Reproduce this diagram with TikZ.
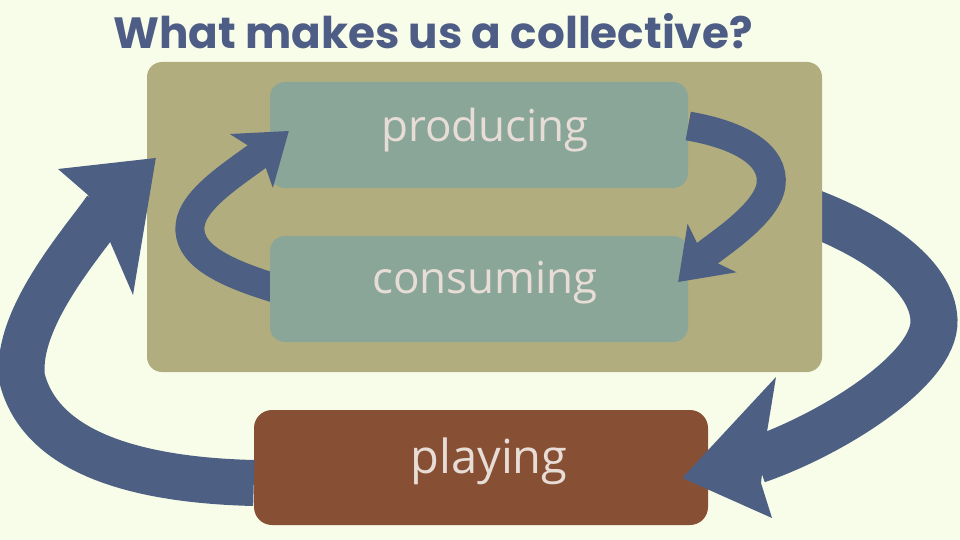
\documentclass[tikz,border=0pt]{standalone}
\usepackage{fontspec}
\setmainfont{Open Sans}
\newfontfamily\titlefont{Poppins}
\usetikzlibrary{arrows.meta}
\definecolor{bg}{HTML}{F8FDEA}
\definecolor{olivebox}{HTML}{B2AD7E}
\definecolor{tealbox}{HTML}{89A698}
\definecolor{brownbox}{HTML}{874F34}
\definecolor{arrowblue}{HTML}{4D6084}
\definecolor{titleblue}{HTML}{4E5D85}
\definecolor{boxtext}{HTML}{E7DDD6}
\tikzset{
  panel/.style={rounded corners=15pt, inner sep=0pt, draw=none},
  label/.style={text=boxtext, font=\fontsize{44}{50}\selectfont, inner sep=0pt},
  bigshaft/.style={draw=arrowblue, line width=46pt},
  bighead/.style={fill=arrowblue},
  smallarrow/.style={draw=arrowblue, line width=29pt,
    -{Stealth[length=48pt, width=69pt, inset=12pt, line width=0pt, fill=arrowblue]}}
}
\begin{document}
\begin{tikzpicture}[x=1pt,y=-1pt]
\useasboundingbox (0,0) rectangle (960,540);
\fill[bg] (0,0) rectangle (960,540);

\node[text=titleblue, font=\titlefont\bfseries\fontsize{43.7}{50}\selectfont, anchor=base west, inner sep=0pt] (title) at (113,49) {What makes us a collective?};

% playing box
\node[panel, fill=brownbox, rounded corners=18pt, minimum width=454pt, minimum height=115pt] (playing) at (481,467.5) {};

% big right arrow (tail hidden under frame)
\coordinate (rtail) at (800,208);
\coordinate (rend) at (757,460);
\coordinate (rT) at ([xshift=-26pt,yshift=-10.5pt]playing.east);
\coordinate (rB1) at (776,377);
\coordinate (rN1) at (766,438);
\coordinate (rN2) at (761,483);
\coordinate (rB2) at (772,518);
\draw[bigshaft, line width=47pt] (rtail) .. controls (875,235) and (932,275) .. (934,320)
   .. controls (936,370) and (830,435) .. (rend);
\fill[bighead] (rT) -- (rB1) -- (rN1) -- (rN2) -- (rB2) -- cycle;

% frame
\node[panel, fill=olivebox, minimum width=675pt, minimum height=310pt] (frame) at (484.5,217) {};
\node[panel, fill=tealbox, minimum width=418pt, minimum height=106pt] (producing) at (479,135) {};

% left small arrow (tail hidden under consuming)
\coordinate (lstail) at (292,293);
\coordinate (lstip) at ([xshift=19pt,yshift=4pt]producing.west);
\draw[smallarrow] (lstail) .. controls (215,272) and (188,252) .. (190,226)
   .. controls (192,198) and (240,170) .. (lstip);

\node[panel, fill=tealbox, minimum width=418pt, minimum height=106pt] (consuming) at (479,289) {};

% right small arrow
\coordinate (rstail) at ([yshift=9pt]producing.east);
\coordinate (rstip) at ([xshift=-10pt,yshift=7pt]consuming.east);
\draw[smallarrow] (rstail) .. controls (740,135) and (775,155) .. (771,185)
   .. controls (767,215) and (712,248) .. (rstip);

% big left arrow
\coordinate (ltail) at ([yshift=-15.5pt]playing.west);
\coordinate (lend) at (106,209);
\coordinate (lT) at ([xshift=9pt,yshift=59pt]frame.west);
\coordinate (lB1) at (58,169);
\coordinate (lN1) at (88,195);
\coordinate (lN2) at (108,237);
\coordinate (lB2) at (133,295);
\draw[bigshaft] (ltail) .. controls (130,480) and (40,450) .. (22,378)
   .. controls (15,318) and (83,242) .. (lend);
\fill[bighead] (lT) -- (lB1) -- (lN1) -- (lN2) -- (lB2) -- cycle;

\node[label] (tproducing) at (485,130) {producing};
\node[label] (tconsuming) at (485,283) {consuming};
\node[label, font=\fontsize{47}{52}\selectfont] (tplaying) at (489,461) {playing};
\end{tikzpicture}
\end{document}
